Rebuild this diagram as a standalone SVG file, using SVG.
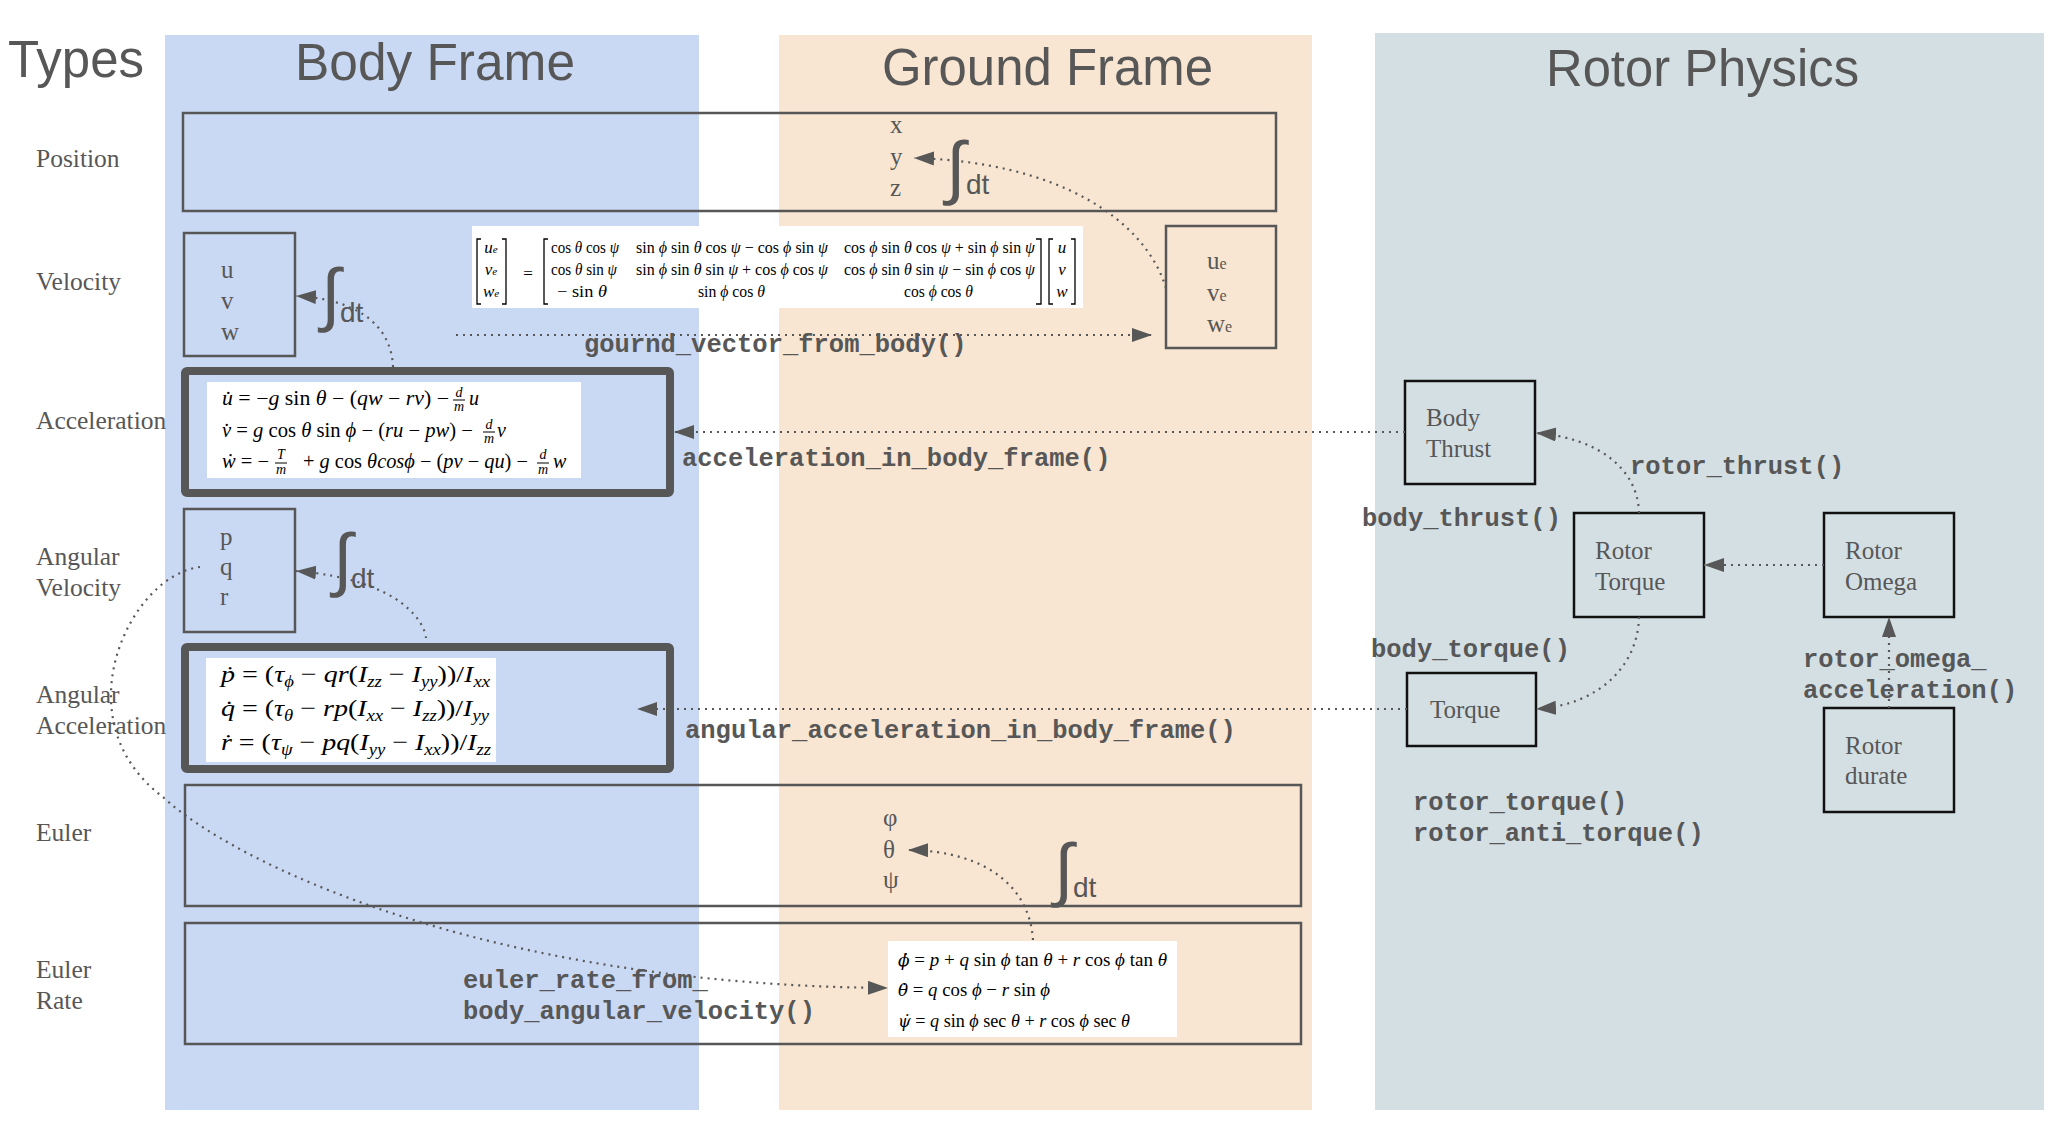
<svg xmlns="http://www.w3.org/2000/svg" width="2058" height="1130" viewBox="0 0 2058 1130">
<style>
.title{font-family:"Liberation Sans",Arial,sans-serif;font-size:51px;fill:#575757;}
.row{font-family:"Liberation Serif","Times New Roman",serif;font-size:25.5px;fill:#575757;}
.var{font-family:"Liberation Serif","Times New Roman",serif;font-size:25px;fill:#575757;}
.fn{font-family:"Liberation Mono","Courier New",monospace;font-weight:bold;font-size:25.5px;fill:#575757;}
.box{fill:none;stroke:#575757;stroke-width:2.5;}
.thick{fill:none;stroke:#575757;stroke-width:8;}
.rbox{fill:none;stroke:#111;stroke-width:2.5;}
.white{fill:#fff;}
.math{font-family:"Liberation Serif","DejaVu Serif",serif;fill:#000;}
.it{font-style:italic;}
.dv{font-family:"DejaVu Serif",serif;font-style:italic;}
.br{fill:none;stroke:#000;stroke-width:1.3;}
.fl{stroke:#000;stroke-width:1;}
.edge{fill:none;stroke:#575757;stroke-width:2.2;stroke-dasharray:2 5;}
.int{font-family:"Liberation Sans",Arial,sans-serif;fill:#575757;}
</style>
<defs>
<marker id="ah" markerUnits="userSpaceOnUse" markerWidth="22" markerHeight="16" refX="20" refY="7" orient="auto">
<path d="M0,0 L20,7 L0,14 z" fill="#575757"/>
</marker>
</defs>

<g id="backgrounds">
<rect x="165" y="35" width="534" height="1075" fill="#cad9f3"/>
<rect x="779" y="35" width="533" height="1075" fill="#f8e6d2"/>
<rect x="1375" y="33" width="669" height="1077" fill="#d4dfe3"/>
</g>

<g id="titles">
<text class="title" x="8" y="77" font-size="53" textLength="136" lengthAdjust="spacingAndGlyphs">Types</text>
<text class="title" x="295" y="80" textLength="280" lengthAdjust="spacingAndGlyphs">Body Frame</text>
<text class="title" x="882" y="85" textLength="331" lengthAdjust="spacingAndGlyphs">Ground Frame</text>
<text class="title" x="1546" y="86" textLength="313" lengthAdjust="spacingAndGlyphs">Rotor Physics</text>
</g>

<g id="row-labels">
<text class="row" x="36" y="167">Position</text>
<text class="row" x="36" y="290">Velocity</text>
<text class="row" x="36" y="429">Acceleration</text>
<text class="row" x="36" y="565">Angular</text>
<text class="row" x="36" y="596">Velocity</text>
<text class="row" x="36" y="703">Angular</text>
<text class="row" x="36" y="734">Acceleration</text>
<text class="row" x="36" y="841">Euler</text>
<text class="row" x="36" y="978">Euler</text>
<text class="row" x="36" y="1009">Rate</text>
</g>

<g id="position">
<rect class="box" x="183" y="113" width="1093" height="98"/>
<text class="var" x="890" y="133">x</text>
<text class="var" x="890" y="165">y</text>
<text class="var" x="890" y="196">z</text>
</g>

<g id="velocity-body">
<rect class="box" x="184" y="233" width="111" height="123"/>
<text class="var" x="221" y="278">u</text>
<text class="var" x="221" y="309">v</text>
<text class="var" x="221" y="340">w</text>
</g>

<g id="velocity-ground">
<rect class="box" x="1166" y="226" width="110" height="122"/>
<text class="var" x="1207" y="269">u<tspan font-size="16">e</tspan></text>
<text class="var" x="1207" y="301">v<tspan font-size="16">e</tspan></text>
<text class="var" x="1207" y="332">w<tspan font-size="16">e</tspan></text>
</g>

<g id="rotation-matrix">
<rect class="white" x="472" y="226" width="611" height="82"/>
<path class="br" d="M481,239 L477,239 L477,304 L481,304 M502,239 L506,239 L506,304 L502,304"/>
<path class="br" d="M548,239 L544,239 L544,304 L548,304 M1036,239 L1041,239 L1041,304 L1036,304"/>
<path class="br" d="M1053,239 L1049,239 L1049,304 L1053,304 M1071,239 L1075,239 L1075,304 L1071,304"/>
<g class="math" font-size="17" text-anchor="middle">
<text x="491" y="253"><tspan class="it">u</tspan><tspan font-size="11" class="it">e</tspan></text>
<text x="491" y="275"><tspan class="it">v</tspan><tspan font-size="11" class="it">e</tspan></text>
<text x="491" y="297"><tspan class="it">w</tspan><tspan font-size="11" class="it">e</tspan></text>
<text x="528" y="279">=</text>
<text x="585" y="253" textLength="68" lengthAdjust="spacingAndGlyphs">cos <tspan class="it">θ</tspan> cos <tspan class="it">ψ</tspan></text>
<text x="732" y="253" textLength="192" lengthAdjust="spacingAndGlyphs">sin <tspan class="it">ϕ</tspan> sin <tspan class="it">θ</tspan> cos <tspan class="it">ψ</tspan> − cos <tspan class="it">ϕ</tspan> sin <tspan class="it">ψ</tspan></text>
<text x="939.5" y="253" textLength="191" lengthAdjust="spacingAndGlyphs">cos <tspan class="it">ϕ</tspan> sin <tspan class="it">θ</tspan> cos <tspan class="it">ψ</tspan> + sin <tspan class="it">ϕ</tspan> sin <tspan class="it">ψ</tspan></text>
<text x="584" y="275" textLength="66" lengthAdjust="spacingAndGlyphs">cos <tspan class="it">θ</tspan> sin <tspan class="it">ψ</tspan></text>
<text x="732" y="275" textLength="192" lengthAdjust="spacingAndGlyphs">sin <tspan class="it">ϕ</tspan> sin <tspan class="it">θ</tspan> sin <tspan class="it">ψ</tspan> + cos <tspan class="it">ϕ</tspan> cos <tspan class="it">ψ</tspan></text>
<text x="939.5" y="275" textLength="191" lengthAdjust="spacingAndGlyphs">cos <tspan class="it">ϕ</tspan> sin <tspan class="it">θ</tspan> sin <tspan class="it">ψ</tspan> − sin <tspan class="it">ϕ</tspan> cos <tspan class="it">ψ</tspan></text>
<text x="582" y="297" textLength="50" lengthAdjust="spacingAndGlyphs">− sin <tspan class="it">θ</tspan></text>
<text x="731.5" y="297" textLength="67" lengthAdjust="spacingAndGlyphs">sin <tspan class="it">ϕ</tspan> cos <tspan class="it">θ</tspan></text>
<text x="938.5" y="297" textLength="69" lengthAdjust="spacingAndGlyphs">cos <tspan class="it">ϕ</tspan> cos <tspan class="it">θ</tspan></text>
<text x="1062" y="253" class="it">u</text>
<text x="1062" y="275" class="it">v</text>
<text x="1062" y="297" class="it">w</text>
</g>
</g>

<g id="acceleration">
<rect class="thick" x="185" y="371" width="485" height="122" rx="2"/>
<rect class="white" x="207" y="382" width="374" height="96"/>
<g class="math" font-size="20">
<text x="222" y="405" textLength="227" lengthAdjust="spacingAndGlyphs"><tspan class="it">u̇</tspan> = −<tspan class="it">g</tspan> sin <tspan class="it">θ</tspan> − (<tspan class="it">qw</tspan> − <tspan class="it">rv</tspan>) −</text>
<text x="459" y="397" font-size="14" class="it" text-anchor="middle">d</text>
<line class="fl" x1="453" y1="400" x2="465" y2="400"/>
<text x="459" y="411" font-size="14" class="it" text-anchor="middle">m</text>
<text x="469" y="405" class="it">u</text>
<text x="222" y="437" textLength="251" lengthAdjust="spacingAndGlyphs"><tspan class="it">v̇</tspan> = <tspan class="it">g</tspan> cos <tspan class="it">θ</tspan> sin <tspan class="it">ϕ</tspan> − (<tspan class="it">ru</tspan> − <tspan class="it">pw</tspan>) −</text>
<text x="489" y="429" font-size="14" class="it" text-anchor="middle">d</text>
<line class="fl" x1="483" y1="432" x2="495" y2="432"/>
<text x="489" y="443" font-size="14" class="it" text-anchor="middle">m</text>
<text x="497" y="437" class="it">v</text>
<text x="222" y="468" textLength="47" lengthAdjust="spacingAndGlyphs"><tspan class="it">ẇ</tspan> = −</text>
<text x="281" y="459" font-size="14" class="it" text-anchor="middle">T</text>
<line class="fl" x1="275" y1="463" x2="287" y2="463"/>
<text x="281" y="474" font-size="14" class="it" text-anchor="middle">m</text>
<text x="303" y="468" textLength="225" lengthAdjust="spacingAndGlyphs">+ <tspan class="it">g</tspan> cos <tspan class="it">θcosϕ</tspan> − (<tspan class="it">pv</tspan> − <tspan class="it">qu</tspan>) −</text>
<text x="543" y="459" font-size="14" class="it" text-anchor="middle">d</text>
<line class="fl" x1="537" y1="463" x2="549" y2="463"/>
<text x="543" y="474" font-size="14" class="it" text-anchor="middle">m</text>
<text x="553" y="468" class="it">w</text>
</g>
</g>

<g id="angular-velocity">
<rect class="box" x="184" y="509" width="111" height="123"/>
<text class="var" x="220" y="545">p</text>
<text class="var" x="220" y="575">q</text>
<text class="var" x="220" y="605">r</text>
</g>

<g id="angular-acceleration">
<rect class="thick" x="185" y="647" width="485" height="122" rx="2"/>
<rect class="white" x="206" y="658" width="290" height="104"/>
<g class="math" font-size="24">
<text x="221" y="682" textLength="269" lengthAdjust="spacingAndGlyphs"><tspan class="it">ṗ</tspan> = (<tspan class="it">τ</tspan><tspan class="it" font-size="16" dy="5">ϕ</tspan><tspan dy="-5"> − </tspan><tspan class="it">qr</tspan>(<tspan class="it">I</tspan><tspan class="it" font-size="16" dy="5">zz</tspan><tspan dy="-5"> − </tspan><tspan class="it">I</tspan><tspan class="it" font-size="16" dy="5">yy</tspan><tspan dy="-5">))/</tspan><tspan class="it">I</tspan><tspan class="it" font-size="16" dy="5">xx</tspan></text>
<text x="221" y="716" textLength="268" lengthAdjust="spacingAndGlyphs"><tspan class="it">q̇</tspan> = (<tspan class="it">τ</tspan><tspan class="it" font-size="16" dy="5">θ</tspan><tspan dy="-5"> − </tspan><tspan class="it">rp</tspan>(<tspan class="it">I</tspan><tspan class="it" font-size="16" dy="5">xx</tspan><tspan dy="-5"> − </tspan><tspan class="it">I</tspan><tspan class="it" font-size="16" dy="5">zz</tspan><tspan dy="-5">))/</tspan><tspan class="it">I</tspan><tspan class="it" font-size="16" dy="5">yy</tspan></text>
<text x="221" y="750" textLength="270" lengthAdjust="spacingAndGlyphs"><tspan class="it">ṙ</tspan> = (<tspan class="it">τ</tspan><tspan class="it" font-size="16" dy="5">ψ</tspan><tspan dy="-5"> − </tspan><tspan class="it">pq</tspan>(<tspan class="it">I</tspan><tspan class="it" font-size="16" dy="5">yy</tspan><tspan dy="-5"> − </tspan><tspan class="it">I</tspan><tspan class="it" font-size="16" dy="5">xx</tspan><tspan dy="-5">))/</tspan><tspan class="it">I</tspan><tspan class="it" font-size="16" dy="5">zz</tspan></text>
</g>
</g>

<g id="euler">
<rect class="box" x="185" y="785" width="1116" height="121"/>
<text class="var" x="883" y="826">φ</text>
<text class="var" x="883" y="858">θ</text>
<text class="var" x="883" y="888">ψ</text>
</g>

<g id="euler-rate">
<rect class="box" x="185" y="923" width="1116" height="121"/>
<rect class="white" x="888" y="941" width="289" height="96"/>
<g class="math" font-size="19">
<text x="898" y="966" textLength="269" lengthAdjust="spacingAndGlyphs"><tspan class="dv" font-size="17">ϕ̇</tspan> = <tspan class="it">p</tspan> + <tspan class="it">q</tspan> sin <tspan class="it">ϕ</tspan> tan <tspan class="it">θ</tspan> + <tspan class="it">r</tspan> cos <tspan class="it">ϕ</tspan> tan <tspan class="it">θ</tspan></text>
<text x="898" y="996" textLength="152" lengthAdjust="spacingAndGlyphs"><tspan class="dv" font-size="17">θ̇</tspan> = <tspan class="it">q</tspan> cos <tspan class="it">ϕ</tspan> − <tspan class="it">r</tspan> sin <tspan class="it">ϕ</tspan></text>
<text x="898" y="1027" textLength="232" lengthAdjust="spacingAndGlyphs"><tspan class="dv" font-size="17">ψ̇</tspan> = <tspan class="it">q</tspan> sin <tspan class="it">ϕ</tspan> sec <tspan class="it">θ</tspan> + <tspan class="it">r</tspan> cos <tspan class="it">ϕ</tspan> sec <tspan class="it">θ</tspan></text>
</g>
</g>

<g id="body-thrust">
<rect class="rbox" x="1405" y="381" width="130" height="103"/>
<text class="var" x="1426" y="426">Body</text>
<text class="var" x="1426" y="457">Thrust</text>
</g>
<g id="rotor-torque">
<rect class="rbox" x="1574" y="513" width="130" height="104"/>
<text class="var" x="1595" y="559">Rotor</text>
<text class="var" x="1595" y="590">Torque</text>
</g>
<g id="rotor-omega">
<rect class="rbox" x="1824" y="513" width="130" height="104"/>
<text class="var" x="1845" y="559">Rotor</text>
<text class="var" x="1845" y="590">Omega</text>
</g>
<g id="torque">
<rect class="rbox" x="1407" y="673" width="129" height="73"/>
<text class="var" x="1430" y="718">Torque</text>
</g>
<g id="rotor-durate">
<rect class="rbox" x="1824" y="708" width="130" height="104"/>
<text class="var" x="1845" y="754">Rotor</text>
<text class="var" x="1845" y="784">durate</text>
</g>

<g id="connectors">
<path class="edge" d="M1166,288 C1145,220 1060,162 914,158" marker-end="url(#ah)"/>
<path class="edge" d="M393,367 C392,335 370,300 296,296" marker-end="url(#ah)"/>
<path class="edge" d="M456,335 L1152,335" marker-end="url(#ah)"/>
<path class="edge" d="M1405,432 L674,432" marker-end="url(#ah)"/>
<path class="edge" d="M426,638 C425,625 405,580 296,571" marker-end="url(#ah)"/>
<path class="edge" d="M1407,709 L637,709" marker-end="url(#ah)"/>
<path class="edge" d="M1033,940 C1030,890 990,851 908,850" marker-end="url(#ah)"/>
<path class="edge" d="M200,567 C130,575 60,720 163,797 C230,860 480,985 888,988" marker-end="url(#ah)"/>
<path class="edge" d="M1639,513 C1638,470 1600,438 1536,433" marker-end="url(#ah)"/>
<path class="edge" d="M1824,565 L1704,565" marker-end="url(#ah)"/>
<path class="edge" d="M1639,617 C1638,665 1600,705 1536,709" marker-end="url(#ah)"/>
<path class="edge" d="M1889,708 L1889,617" marker-end="url(#ah)"/>
</g>

<g id="integral-labels">
<text class="int" x="321" y="318" font-size="70">∫</text>
<text class="int" x="340" y="322" font-size="28">dt</text>
<text class="int" x="333" y="583" font-size="70">∫</text>
<text class="int" x="351" y="588" font-size="28">dt</text>
<text class="int" x="946" y="191" font-size="70">∫</text>
<text class="int" x="966" y="194" font-size="28">dt</text>
<text class="int" x="1054" y="893" font-size="70">∫</text>
<text class="int" x="1073" y="897" font-size="28">dt</text>
</g>

<g id="function-labels">
<text class="fn" x="584" y="352">gournd_vector_from_body()</text>
<text class="fn" x="682" y="466">acceleration_in_body_frame()</text>
<text class="fn" x="685" y="738">angular_acceleration_in_body_frame()</text>
<text class="fn" x="463" y="988">euler_rate_from_</text>
<text class="fn" x="463" y="1019">body_angular_velocity()</text>
<text class="fn" x="1630" y="474">rotor_thrust()</text>
<text class="fn" x="1362" y="526">body_thrust()</text>
<text class="fn" x="1371" y="657">body_torque()</text>
<text class="fn" x="1803" y="667">rotor_omega_</text>
<text class="fn" x="1803" y="698">acceleration()</text>
<text class="fn" x="1413" y="810">rotor_torque()</text>
<text class="fn" x="1413" y="841">rotor_anti_torque()</text>
</g>
</svg>
